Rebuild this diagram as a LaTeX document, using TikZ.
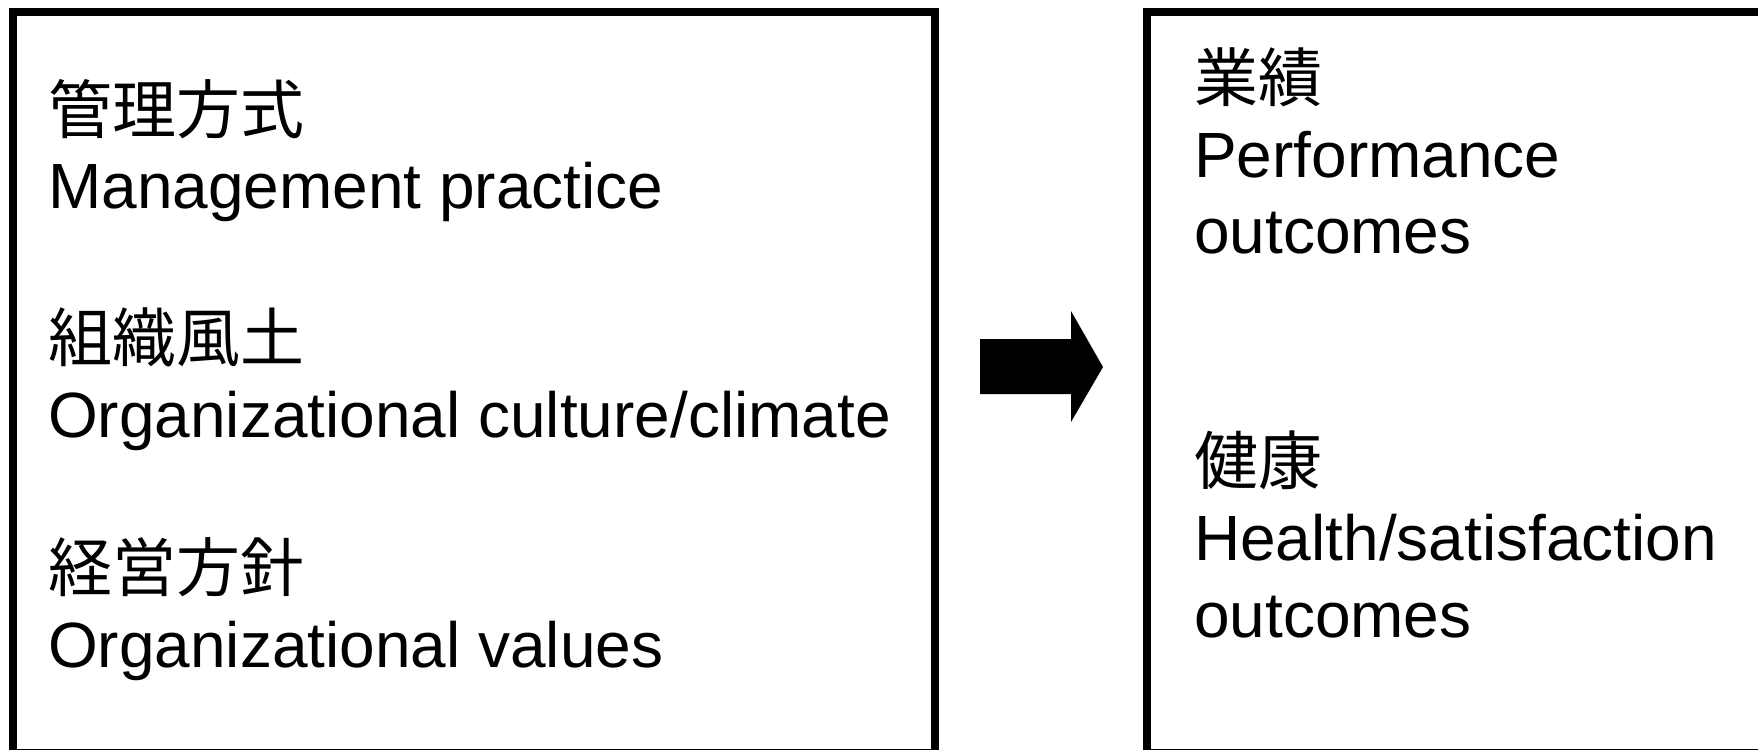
\documentclass[tikz,border=0pt]{standalone}
\usepackage{fontspec}
\setmainfont{Liberation Sans}
\newfontfamily\jfont{Noto Sans CJK JP}
\begin{document}
\begin{tikzpicture}[
  panel/.style={line width=0.08cm},
  jlabel/.style={anchor=base west,inner sep=0pt,font=\jfont\fontsize{18.2}{21}\selectfont},
  elabel/.style={anchor=base west,inner sep=0pt,font=\fontsize{18.2}{21}\selectfont}]
\useasboundingbox (0,0) rectangle (17.58,7.49);
\clip (0,0) rectangle (17.58,7.49);
% two boxes, cut off by the page edge
\draw[panel] (0.13,-0.04) rectangle (9.35,7.37);
\draw[panel] (11.47,-0.04) rectangle (17.90,7.37);
% block arrow between them
\fill (9.80,3.55) -- (10.71,3.55) -- (10.71,3.27) -- (11.03,3.82) -- (10.71,4.38) -- (10.71,4.10) -- (9.80,4.10) -- cycle;
% left box
\node[jlabel] (mgmtJ) at (0.475,6.16){管理方式};
\node[elabel] (mgmtE) at (0.475,5.405){Management practice};
\node[jlabel] (cultJ) at (0.475,3.874){組織風土};
\node[elabel] (cultE) at (0.475,3.117){Organizational culture/climate};
\node[jlabel] (valsJ) at (0.475,1.58){経営方針};
\node[elabel] (valsE) at (0.475,0.82){Organizational values};
% right box
\node[jlabel] (perfJ) at (11.935,6.48){業績};
\node[elabel] (perfE) at (11.935,5.719){Performance};
\node[elabel] (perfO) at (11.935,4.96){outcomes};
\node[jlabel] (hlthJ) at (11.935,2.65){健康};
\node[elabel] (hlthE) at (11.935,1.884){Health/satisfaction};
\node[elabel] (hlthO) at (11.935,1.12){outcomes};
\end{tikzpicture}
\end{document}
